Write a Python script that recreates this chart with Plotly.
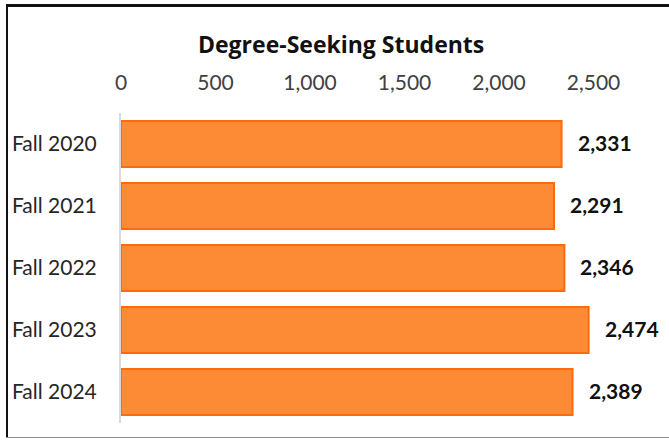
import plotly.graph_objects as go

categories = ["Fall 2020", "Fall 2021", "Fall 2022", "Fall 2023", "Fall 2024"]
students = [2331, 2291, 2346, 2474, 2389]
tick_values = [0, 500, 1000, 1500, 2000, 2500]
tick_labels = ["0", "500", "1,000", "1,500", "2,000", "2,500"]
chart_title = "Degree-Seeking Students"

W, H = 669, 440
L, R, T, B = 121, 0, 113, 17
pw, ph = W - L - R, H - T - B

def px_x(p):
    return (p - L) / pw

def px_y(p):
    return (H - B - p) / ph

FONT = "Lato"

fig = go.Figure()
fig.add_trace(go.Bar(
    x=students, y=categories, orientation="h",
    marker=dict(color="#FD8B36", line=dict(color="#FF6A0A", width=2)),
    width=0.74, hoverinfo="skip",
))

annotations = []
for c, v in zip(categories, students):
    annotations.append(dict(
        x=v, y=c, xref="x", yref="y", text=f"<b>{v:,}</b>",
        showarrow=False, xanchor="left", xshift=14, yshift=2,
        font=dict(family=FONT, size=21, color="#111111"),
    ))

annotations.append(dict(
    x=px_x(341), y=px_y(44), xref="paper", yref="paper",
    text=f"<b>{chart_title}</b>", showarrow=False,
    xanchor="center", yanchor="middle",
    font=dict(family="Open Sans", size=23, color="#111111"),
))

shapes = [
    dict(type="line", xref="paper", yref="paper", x0=px_x(6), x1=px_x(669),
         y0=px_y(5.5), y1=px_y(5.5), line=dict(color="#111111", width=3)),
    dict(type="line", xref="paper", yref="paper", x0=px_x(7), x1=px_x(7),
         y0=px_y(4), y1=px_y(438), line=dict(color="#111111", width=2)),
    dict(type="line", xref="paper", yref="paper", x0=px_x(6), x1=px_x(669),
         y0=px_y(437.5), y1=px_y(437.5), line=dict(color="#8C8C8C", width=1)),
]

fig.update_layout(
    width=W, height=H,
    margin=dict(l=L, r=R, t=T, b=B, pad=0),
    paper_bgcolor="white", plot_bgcolor="white",
    showlegend=False,
    bargap=0.26,
    annotations=annotations,
    shapes=shapes,
    xaxis=dict(
        side="top", range=[0, (pw) / 0.189],
        tickvals=tick_values, ticktext=tick_labels,
        showgrid=False, zeroline=False, showline=False, ticks="",
        tickfont=dict(family=FONT, size=21, color="#404040"),
        ticklabelstandoff=18,
        fixedrange=True,
    ),
    yaxis=dict(
        autorange="reversed", categoryorder="array", categoryarray=categories,
        showgrid=False, zeroline=False,
        showline=True, linecolor="#D9D9D9", linewidth=2,
        ticks="", tickfont=dict(family=FONT, size=21, color="#262626"),
        ticklabelstandoff=18,
        fixedrange=True,
    ),
)

fig.write_html("out.html", post_script="document.body.style.margin='0';", config={"displayModeBar": False})
